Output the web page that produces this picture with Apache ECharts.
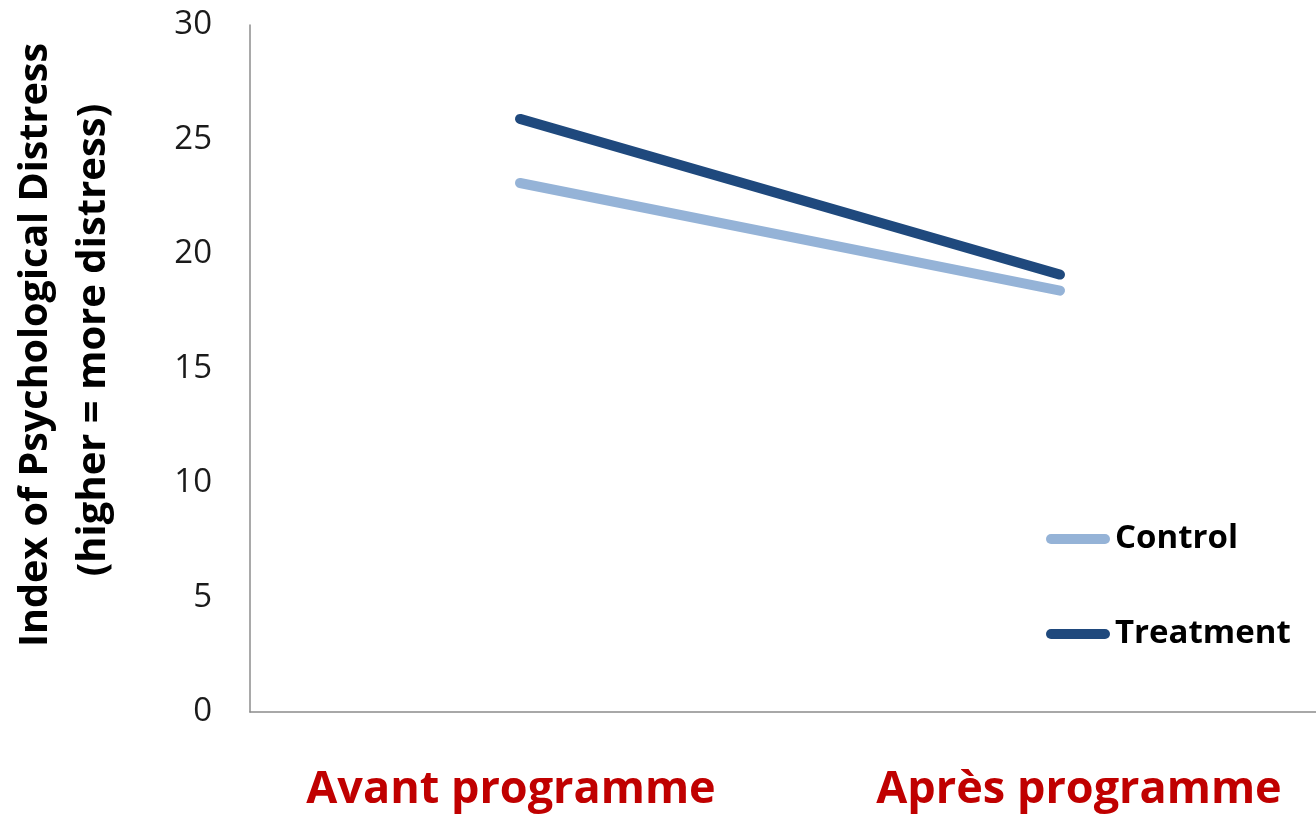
<!DOCTYPE html>
<html><head><meta charset="utf-8">
<script src="https://cdn.jsdelivr.net/npm/echarts@6/dist/echarts.min.js"></script>
<style>html,body{margin:0;padding:0;background:#fff;overflow:hidden}#c{width:1330px;height:814px}</style>
</head><body><div id="c"></div>
<script>
var categories = ['Avant programme', 'Après programme'];
var controlValues = [23.1, 18.4];
var treatmentValues = [25.9, 19.1];
var seriesNames = ['Control', 'Treatment'];
var yTitleLines = ['Index of Psychological Distress', '(higher = more distress)'];

var FONT = '"Open Sans", "Liberation Sans", sans-serif';
var pill = 'path://M5,0 L59,0 A5,5 0 0 1 59,10 L5,10 A5,5 0 0 1 5,0 Z';
var chart = echarts.init(document.getElementById('c'), null, {renderer: 'canvas'});
chart.setOption({
  animation: false,
  backgroundColor: '#ffffff',
  grid: {left: 250, top: 25, bottom: 102, right: 0, containLabel: false},
  legend: {
    orient: 'vertical', left: 1041, top: 516, itemWidth: 64, itemHeight: 10, itemGap: 59,
    symbolKeepAspect: false,
    data: [{name: seriesNames[0], icon: pill}, {name: seriesNames[1], icon: pill}],
    textStyle: {fontFamily: FONT, fontSize: 33, fontWeight: 'bold', color: '#000', lineHeight: 36}
  },
  xAxis: {
    type: 'category', data: categories, boundaryGap: true,
    axisLine: {show: true, lineStyle: {color: '#8c8c8c', width: 1.5}},
    axisTick: {show: false},
    axisLabel: {
      margin: 56, interval: 0,
      formatter: function (v, i) { return i === 0 ? '{a|' + v + '}' : '{b|' + v + '}'; },
      rich: {
        a: {fontFamily: FONT, fontSize: 45, fontWeight: 'bold', color: '#C00000', padding: [0, 18, 0, 0]},
        b: {fontFamily: FONT, fontSize: 45, fontWeight: 'bold', color: '#C00000', padding: [0, 0, 0, 38]}
      }
    }
  },
  yAxis: {
    type: 'value', min: 0, max: 30, interval: 5,
    axisLine: {show: true, lineStyle: {color: '#8c8c8c', width: 1.5}},
    axisTick: {show: false},
    splitLine: {show: false},
    axisLabel: {margin: 38, fontFamily: FONT, fontSize: 33, color: '#1a1a1a'}
  },
  graphic: [
    {type: 'text', rotation: Math.PI / 2, x: 36, y: 345,
     style: {text: yTitleLines[0], fontFamily: FONT, fontSize: 39.5, fontWeight: 'bold', fill: '#000', align: 'center', verticalAlign: 'middle'}},
    {type: 'text', rotation: Math.PI / 2, x: 94, y: 340,
     style: {text: yTitleLines[1], fontFamily: FONT, fontSize: 40, fontWeight: 'bold', fill: '#000', align: 'center', verticalAlign: 'middle'}}
  ],
  series: [
    {name: seriesNames[0], type: 'line', data: controlValues, symbol: 'none',
     lineStyle: {color: '#95B3D7', width: 10, cap: 'round'}, itemStyle: {color: '#95B3D7'}},
    {name: seriesNames[1], type: 'line', data: treatmentValues, symbol: 'none',
     lineStyle: {color: '#1F497D', width: 10, cap: 'round'}, itemStyle: {color: '#1F497D'}}
  ]
});
</script></body></html>
